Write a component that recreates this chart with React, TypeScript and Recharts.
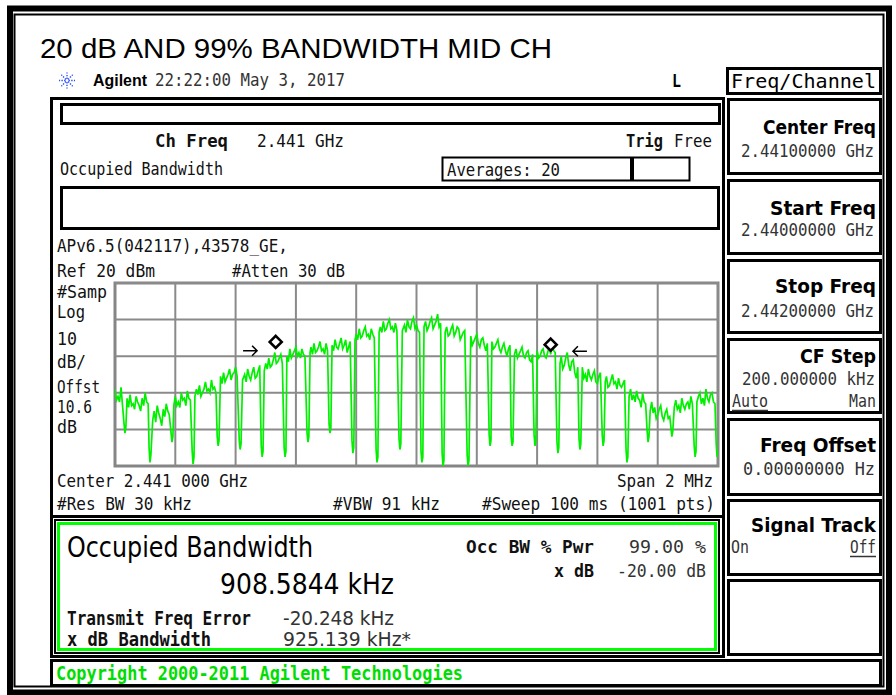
import React from 'react';
import { ComposedChart, Line, Scatter, XAxis, YAxis, CartesianGrid } from 'recharts';

// Trace: [frequency offset from 2.441 GHz in kHz, level in dBm]
const trace: [number, number][] = [
  [-1000,-38],[-995,-44],[-990,-42],[-985,-45],[-980,-37],[-970,-57],[-967,-62],[-964,-59],[-960,-43],[-955,-48],
  [-950,-41],[-945,-47],[-940,-46],[-935,-49],[-930,-42],[-925,-45],[-920,-47],[-915,-50],[-910,-43],[-905,-47],
  [-900,-40],[-895,-45],[-890,-46],[-887,-70],[-884,-78],[-881,-74],[-875,-55],[-870,-50],[-865,-56],[-860,-47],
  [-855,-51],[-850,-54],[-845,-58],[-840,-49],[-835,-53],[-830,-46],[-825,-50],[-820,-52],[-814,-62],[-811,-67],
  [-808,-64],[-805,-47],[-800,-42],[-795,-47],[-790,-45],[-785,-48],[-780,-40],[-775,-44],[-770,-43],[-765,-47],
  [-760,-39],[-755,-43],[-750,-44],[-744,-72],[-741,-79],[-738,-75],[-735,-42],[-730,-38],[-725,-41],[-720,-36],
  [-715,-42],[-710,-40],[-705,-38],[-700,-34],[-695,-39],[-690,-38],[-685,-40],[-680,-33],[-675,-38],[-670,-37],
  [-665,-40],[-661,-64],[-658,-69],[-655,-66],[-650,-31],[-645,-35],[-640,-29],[-635,-34],[-630,-32],[-625,-30],
  [-620,-27],[-615,-33],[-610,-30],[-605,-29],[-600,-26],[-595,-31],[-588,-66],[-585,-71],[-582,-68],[-577,-33],
  [-570,-30],[-565,-34],[-560,-27],[-555,-31],[-550,-33],[-545,-29],[-540,-26],[-535,-32],[-530,-31],[-525,-28],
  [-520,-25],[-515,-69],[-512,-75],[-509,-72],[-505,-28],[-500,-24],[-495,-27],[-490,-21],[-485,-26],[-480,-25],
  [-475,-22],[-470,-18],[-465,-24],[-460,-23],[-455,-21],[-450,-19],[-445,-24],[-439,-70],[-436,-75],[-433,-72],
  [-430,-20],[-425,-23],[-420,-16],[-415,-21],[-410,-19],[-405,-17],[-400,-15],[-395,-20],[-390,-18],[-385,-21],
  [-380,-16],[-375,-19],[-370,-20],[-363,-62],[-360,-67],[-357,-64],[-353,-18],[-350,-15],[-345,-19],[-340,-13],
  [-335,-18],[-330,-17],[-325,-15],[-320,-12],[-315,-17],[-310,-16],[-305,-19],[-300,-13],[-295,-17],[-290,-57],
  [-287,-62],[-284,-59],[-280,-14],[-275,-17],[-270,-11],[-265,-15],[-260,-16],[-255,-13],[-250,-10],[-245,-16],
  [-240,-14],[-235,-11],[-230,-18],[-225,-15],[-220,-12],[-214,-66],[-211,-73],[-208,-70],[-204,-11],[-200,-8],
  [-195,-11],[-190,-5],[-185,-10],[-180,-9],[-175,-6],[-170,-4],[-165,-9],[-160,-8],[-155,-11],[-150,-5],
  [-145,-8],[-140,-10],[-134,-71],[-131,-78],[-128,-75],[-124,-7],[-120,-4],[-115,-7],[-110,-1],[-105,-6],
  [-100,-5],[-95,-2],[-90,0],[-85,-5],[-80,-4],[-75,-7],[-70,-2],[-65,-6],[-58,-65],[-55,-71],
  [-52,-68],[-47,-6],[-40,-3],[-35,-7],[-30,0],[-25,-4],[-20,-5],[-15,-1],[-10,1],[-5,-5],
  [0,-3],[5,-6],[10,-7],[15,-72],[18,-78],[21,-75],[25,-4],[30,-1],[35,-6],[40,-4],
  [45,-1],[50,1],[55,-5],[60,-3],[65,-1],[70,3],[75,-4],[80,-2],[85,-73],[88,-80],
  [91,-77],[95,-7],[100,-4],[105,-9],[110,-8],[115,-5],[120,-3],[125,-9],[130,-7],[135,-4],
  [140,-5],[145,-11],[150,-9],[155,-7],[160,-6],[168,-74],[171,-80],[174,-77],[180,-9],[185,-14],
  [190,-12],[195,-10],[200,-8],[205,-13],[210,-15],[215,-11],[220,-10],[225,-14],[230,-17],[235,-13],
  [241,-63],[244,-69],[247,-66],[250,-12],[255,-16],[260,-15],[265,-13],[270,-11],[275,-16],[280,-18],
  [285,-15],[290,-13],[295,-17],[300,-20],[305,-16],[310,-14],[314,-64],[317,-69],[320,-67],[325,-19],
  [330,-16],[335,-21],[340,-19],[345,-17],[350,-15],[355,-20],[360,-21],[365,-18],[370,-17],[375,-22],
  [380,-23],[385,-19],[390,-63],[393,-69],[396,-66],[400,-17],[405,-21],[410,-20],[415,-17],[420,-16],
  [425,-20],[430,-21],[435,-18],[440,-15],[445,-19],[450,-14],[455,-17],[460,-18],[466,-67],[469,-73],
  [472,-70],[476,-24],[480,-20],[485,-27],[490,-25],[495,-21],[500,-18],[505,-25],[510,-28],[515,-23],
  [520,-22],[525,-29],[530,-32],[535,-26],[539,-65],[542,-71],[545,-68],[550,-26],[555,-32],[560,-30],
  [565,-34],[570,-27],[575,-31],[580,-33],[585,-30],[590,-28],[595,-34],[600,-35],[605,-31],[610,-29],
  [616,-63],[619,-69],[622,-66],[626,-34],[630,-31],[635,-37],[640,-36],[645,-33],[650,-30],[655,-35],
  [660,-34],[665,-38],[670,-32],[675,-36],[680,-37],[685,-35],[690,-33],[695,-71],[698,-78],[701,-75],
  [705,-42],[710,-38],[715,-44],[720,-41],[725,-45],[730,-39],[735,-43],[740,-44],[745,-48],[750,-40],
  [755,-45],[760,-46],[765,-61],[768,-67],[771,-64],[775,-50],[780,-45],[785,-51],[790,-48],[795,-54],
  [800,-52],[805,-49],[810,-47],[815,-53],[820,-55],[825,-51],[830,-49],[835,-54],[840,-53],[844,-59],
  [847,-64],[850,-61],[855,-48],[860,-44],[865,-49],[870,-47],[875,-51],[880,-43],[885,-47],[890,-49],
  [895,-46],[900,-45],[905,-49],[910,-42],[915,-46],[921,-69],[924,-75],[927,-72],[930,-45],[935,-42],
  [940,-40],[945,-46],[950,-43],[955,-47],[960,-38],[965,-43],[970,-45],[975,-41],[980,-40],[985,-45],
  [990,-46],[994,-68],[997,-75],[1000,-72],
];

const xTicks = [-1000, -800, -600, -400, -200, 0, 200, 400, 600, 800, 1000];
const yTicks = [-80, -70, -60, -50, -40, -30, -20, -10, 0, 10, 20];
const obwMarkers = [{ f: -467, v: -12.2 }, { f: 445, v: -13.7 }];
const leftArrow = [{ f: -552, v: -17.0 }];
const rightArrow = [{ f: 542, v: -17.3 }];

const traceData = trace.map(([f, v]) => ({ f, v }));

const MONO = "'DejaVu Sans Mono', monospace";
const SANS = "'DejaVu Sans', sans-serif";
const ARIAL = "'Liberation Sans', Arial, sans-serif";

type TxtProps = { x: number; y: number; w: number; s?: number; b?: boolean; f?: string; c?: string; children: string };
function Txt({ x, y, w, s = 18, b = false, f = MONO, c = '#111', children }: TxtProps) {
  return (
    <text x={x} y={y} fontSize={s} fontFamily={f} fontWeight={b ? 700 : 400} fill={c}
      textLength={w} lengthAdjust="spacingAndGlyphs">{children}</text>
  );
}

const Diamond = (p: any) => {
  const { cx, cy } = p;
  if (cx == null || cy == null) return <g />;
  return <path d={`M${cx},${cy - 6} L${cx + 6},${cy} L${cx},${cy + 6} L${cx - 6},${cy} Z`} fill="#fff" stroke="#000" strokeWidth={2.6} />;
};
const ArrowR = (p: any) => {
  const { cx, cy } = p;
  if (cx == null || cy == null) return <g />;
  return <path d={`M${cx - 7},${cy} L${cx + 7},${cy} M${cx + 2},${cy - 5} L${cx + 7},${cy} L${cx + 2},${cy + 5}`} fill="none" stroke="#000" strokeWidth={1.5} />;
};
const ArrowL = (p: any) => {
  const { cx, cy } = p;
  if (cx == null || cy == null) return <g />;
  return <path d={`M${cx + 7},${cy} L${cx - 7},${cy} M${cx - 2},${cy - 5} L${cx - 7},${cy} L${cx - 2},${cy + 5}`} fill="none" stroke="#000" strokeWidth={1.5} />;
};

function Star() {
  const angles = [0, 45, 90, 135, 180, 225, 270, 315];
  return (
    <g stroke="#2a4dff" strokeWidth={1.4} strokeDasharray="1.4 1.3">
      {angles.map((a) => {
        const r = (a * Math.PI) / 180;
        return <line key={a} x1={67 + Math.cos(r) * 1.5} y1={80.5 + Math.sin(r) * 1.5} x2={67 + Math.cos(r) * 8} y2={80.5 + Math.sin(r) * 8} />;
      })}
    </g>
  );
}

function SoftBox({ y, h }: { y: number; h: number }) {
  return <rect x={728.5} y={y} width={152} height={h} fill="none" stroke="#000" strokeWidth={3} />;
}

export default function App() {
  return (
    <div style={{ position: 'absolute', left: 0, top: 0, width: 896, height: 695, background: '#fff', overflow: 'hidden' }}>
      <svg width={896} height={695} style={{ position: 'absolute', left: 0, top: 0 }}>
        <rect x={10} y={8.5} width={879} height={684} fill="none" stroke="#000" strokeWidth={6} />
        <rect x={14.5} y={14.5} width={869} height={672} fill="none" stroke="#000" strokeWidth={2} />

        <text x={40} y={58} fontSize={28} fontFamily={ARIAL} fill="#000" textLength={512} lengthAdjust="spacingAndGlyphs">20 dB AND 99% BANDWIDTH MID CH</text>

        <Star />
        <Txt x={93} y={86} w={54} s={16} b f={ARIAL} c="#000">Agilent</Txt>
        <Txt x={155} y={86} w={190} s={17} c="#333">22:22:00  May 3, 2017</Txt>
        <Txt x={672} y={87} w={9} s={17} b c="#000">L</Txt>

        <rect x={727.5} y={68.5} width={153} height={25} fill="none" stroke="#000" strokeWidth={3} />
        <Txt x={731} y={88} w={145} s={20} c="#000">Freq/Channel</Txt>

        <SoftBox y={99.5} h={74} />
        <Txt x={763} y={134} w={113} s={20} b f={SANS} c="#000">Center Freq</Txt>
        <Txt x={741} y={157} w={133} s={17} c="#333">2.44100000 GHz</Txt>

        <SoftBox y={180.5} h={73} />
        <Txt x={770} y={215} w={106} s={20} b f={SANS} c="#000">Start Freq</Txt>
        <Txt x={741} y={236} w={133} s={17} c="#333">2.44000000 GHz</Txt>

        <SoftBox y={260.5} h={72} />
        <Txt x={775} y={293} w={101} s={20} b f={SANS} c="#000">Stop Freq</Txt>
        <Txt x={741} y={317} w={133} s={17} c="#333">2.44200000 GHz</Txt>

        <SoftBox y={339.5} h={73} />
        <Txt x={800} y={363} w={76} s={20} b f={SANS} c="#000">CF Step</Txt>
        <Txt x={742} y={385} w={133} s={17} c="#333">200.000000 kHz</Txt>
        <Txt x={732} y={407} w={36} s={18} c="#333">Auto</Txt>
        <line x1={732} y1={410.5} x2={768} y2={410.5} stroke="#333" strokeWidth={1.5} />
        <Txt x={849} y={407} w={27} s={18} c="#333">Man</Txt>

        <SoftBox y={419.5} h={75} />
        <Txt x={760} y={452} w={116} s={20} b f={SANS} c="#000">Freq Offset</Txt>
        <Txt x={743} y={475} w={132} s={17} c="#333">0.00000000  Hz</Txt>

        <SoftBox y={500.5} h={74} />
        <Txt x={751} y={532} w={125} s={20} b f={SANS} c="#000">Signal Track</Txt>
        <Txt x={731} y={553} w={18} s={18} c="#333">On</Txt>
        <Txt x={850} y={553} w={26} s={18} c="#333">Off</Txt>
        <line x1={850} y1={556.5} x2={876} y2={556.5} stroke="#333" strokeWidth={1.5} />

        <SoftBox y={580.5} h={74} />

        <rect x={51.5} y={98.5} width={672} height={558} fill="none" stroke="#000" strokeWidth={3} />
        <line x1={51} y1={516.5} x2={724} y2={516.5} stroke="#000" strokeWidth={3} />

        <rect x={61.5} y={104.5} width={658} height={19} fill="none" stroke="#000" strokeWidth={3} />

        <Txt x={155} y={147} w={73} b>Ch Freq</Txt>
        <Txt x={257} y={147} w={87}>2.441 GHz</Txt>
        <Txt x={626} y={147} w={37} b>Trig</Txt>
        <Txt x={674} y={147} w={38}>Free</Txt>

        <Txt x={60} y={175} w={163}>Occupied Bandwidth</Txt>
        <rect x={442.5} y={157.5} width={247} height={23} fill="none" stroke="#000" strokeWidth={2} />
        <rect x={630} y={157} width={4} height={24} fill="#000" />
        <Txt x={447} y={176} w={113}>Averages: 20</Txt>

        <rect x={61.5} y={187.5} width={657} height={41} fill="none" stroke="#000" strokeWidth={3} />

        <Txt x={57} y={252} w={231}>APv6.5(042117),43578_GE,</Txt>
        <Txt x={57} y={277} w={98}>Ref 20 dBm</Txt>
        <Txt x={232} y={277} w={113}>#Atten 30 dB</Txt>

        <Txt x={57} y={298} w={50}>#Samp</Txt>
        <Txt x={57} y={318} w={28}>Log</Txt>
        <Txt x={57} y={345} w={20}>10</Txt>
        <Txt x={57} y={368} w={29}>dB/</Txt>
        <Txt x={57} y={393} w={43}>Offst</Txt>
        <Txt x={57} y={413} w={35}>10.6</Txt>
        <Txt x={57} y={433} w={20}>dB</Txt>

        <rect x={115} y={283} width={603} height={183} fill="none" stroke="#858585" strokeWidth={3} />

        <Txt x={57} y={487} w={191}>Center 2.441 000 GHz</Txt>
        <Txt x={617} y={487} w={96}>Span 2 MHz</Txt>
        <Txt x={57} y={510} w={135}>#Res BW 30 kHz</Txt>
        <Txt x={333} y={510} w={107}>#VBW 91 kHz</Txt>
        <Txt x={482} y={510} w={233}>#Sweep 100 ms (1001 pts)</Txt>

        <rect x={55} y={520} width={664} height={133} fill="none" stroke="#000" strokeWidth={2} />
        <rect x={58.5} y={523.5} width={657} height={126} fill="none" stroke="#00ff00" strokeWidth={3} />
        <Txt x={67} y={557} w={246} s={29} f={SANS} c="#000">Occupied Bandwidth</Txt>
        <Txt x={220} y={594} w={174} s={29} f={SANS} c="#000">908.5844 kHz</Txt>
        <Txt x={466} y={553} w={128} s={18} b>Occ BW % Pwr</Txt>
        <Txt x={629} y={553} w={77} s={18} c="#333">99.00 %</Txt>
        <Txt x={554} y={577} w={40} s={18} b>x dB</Txt>
        <Txt x={617} y={577} w={89} s={18} c="#333">-20.00 dB</Txt>
        <Txt x={67} y={625} w={184} s={19} b>Transmit Freq Error</Txt>
        <Txt x={283} y={625} w={111} s={19} f={SANS} c="#333">-20.248 kHz</Txt>
        <Txt x={67} y={646} w={144} s={19} b>x dB Bandwidth</Txt>
        <Txt x={283} y={646} w={128} s={19} f={SANS} c="#333">925.139 kHz*</Txt>

        <rect x={51.5} y={660.5} width={829} height={25} fill="none" stroke="#000" strokeWidth={3} />
        <Txt x={56} y={680} w={407} s={19} b c="#00dd00">Copyright 2000-2011 Agilent Technologies</Txt>
      </svg>

      <div style={{ position: 'absolute', left: 113, top: 281 }}>
        <ComposedChart width={607} height={187} margin={{ top: 2, right: 2, bottom: 2, left: 2 }}>
          <XAxis type="number" dataKey="f" domain={[-1000, 1000]} ticks={xTicks} allowDataOverflow hide />
          <YAxis type="number" domain={[-80, 20]} ticks={yTicks} allowDataOverflow hide />
          <CartesianGrid stroke="#8a8a8a" strokeWidth={2} horizontalValues={yTicks} verticalValues={xTicks} />
          <Line data={traceData} dataKey="v" type="linear" stroke="#00f000" strokeWidth={1.7}
            dot={false} activeDot={false} isAnimationActive={false} />
          <Scatter data={obwMarkers} dataKey="v" shape={Diamond} isAnimationActive={false} />
          <Scatter data={leftArrow} dataKey="v" shape={ArrowR} isAnimationActive={false} />
          <Scatter data={rightArrow} dataKey="v" shape={ArrowL} isAnimationActive={false} />
        </ComposedChart>
      </div>
    </div>
  );
}
